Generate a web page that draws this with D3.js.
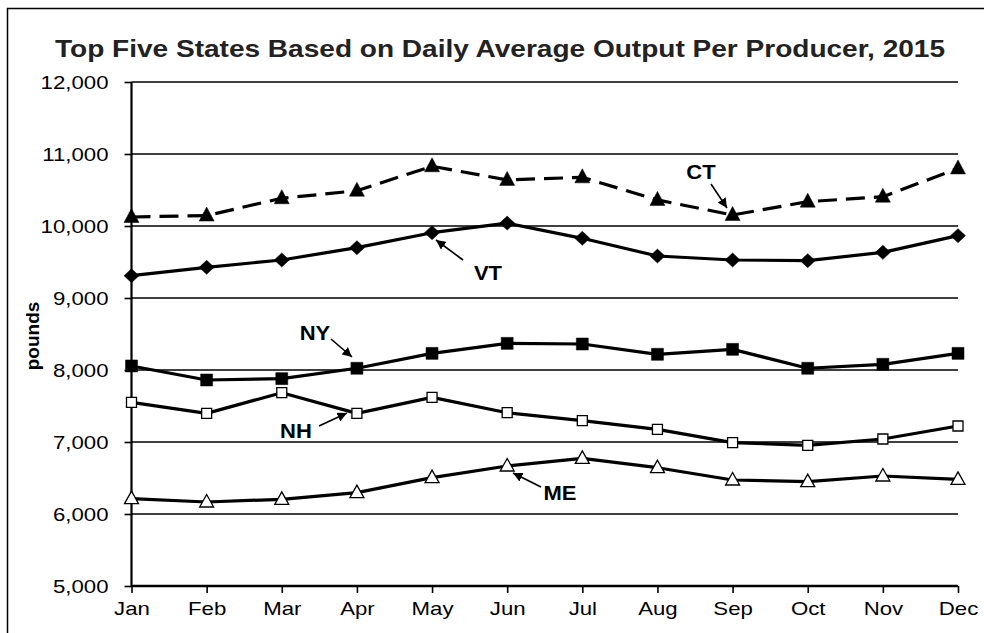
<!DOCTYPE html>
<html>
<head>
<meta charset="utf-8">
<script src="https://cdn.jsdelivr.net/npm/d3@7"></script>
<style>
  html, body { margin: 0; padding: 0; background: #fff; }
  svg { display: block; font-family: "Liberation Sans", Arial, sans-serif; }
</style>
</head>
<body>
<svg id="chart" width="984" height="633"></svg>
<script>
const months = ["Jan","Feb","Mar","Apr","May","Jun","Jul","Aug","Sep","Oct","Nov","Dec"];
const ct = [10125, 10145, 10385, 10490, 10830, 10640, 10676, 10362, 10153, 10338, 10407, 10800];
const vt = [9310, 9426, 9528, 9699, 9907, 10040, 9829, 9583, 9528, 9519, 9634, 9866];
const ny = [8056, 7861, 7880, 8024, 8231, 8370, 8361, 8218, 8287, 8024, 8079, 8231];
const nh = [7551, 7398, 7685, 7398, 7620, 7407, 7296, 7176, 6991, 6954, 7042, 7222];
const me = [6213, 6167, 6204, 6296, 6505, 6667, 6773, 6643, 6472, 6449, 6528, 6481];
const yTicks = [5000, 6000, 7000, 8000, 9000, 10000, 11000, 12000];
const title = "Top Five States Based on Daily Average Output Per Producer, 2015";
const yLabel = "pounds";

const svg = d3.select("#chart");

// frame
svg.append("rect").attr("x", 7.5).attr("y", 8.5).attr("width", 1100).attr("height", 800)
  .attr("fill", "none").attr("stroke", "#000").attr("stroke-width", 1.5);

const x = d3.scalePoint().domain(months).range([131.5, 958]);
const y = d3.scaleLinear().domain([5000, 12000]).range([586, 82]);

function stretch(sel, f) {
  sel.each(function() {
    const w = this.getComputedTextLength();
    d3.select(this).attr("textLength", w * f).attr("lengthAdjust", "spacingAndGlyphs");
  });
}

// gridlines
svg.append("g").selectAll("line").data(yTicks.filter(d => d > 5000)).join("line")
  .attr("x1", 131.5).attr("x2", 958).attr("y1", d => y(d)).attr("y2", d => y(d))
  .attr("stroke", "#000").attr("stroke-width", 1.4);

// y axis
const gy = svg.append("g").attr("transform", "translate(131.5,0)")
  .call(d3.axisLeft(y).tickValues(yTicks).tickFormat(d3.format(",")).tickSize(7).tickPadding(16));
gy.select(".domain").attr("stroke-width", 2.2).attr("d", `M0,${y(12000)}V${y(5000)}`);
gy.selectAll(".tick line").attr("stroke-width", 1.6);
gy.selectAll(".tick text").attr("font-size", 18.5).attr("fill", "#000")
  .attr("font-family", "'Liberation Sans', Arial, sans-serif").attr("dy", "0.36em");
stretch(gy.selectAll(".tick text"), 1.2);

// x axis
const gx = svg.append("g").attr("transform", `translate(0,${y(5000)})`)
  .call(d3.axisBottom(x).tickSize(7).tickPadding(9));
gx.select(".domain").attr("stroke-width", 2.4).attr("d", `M131.5,0H958`);
gx.selectAll(".tick line").attr("stroke-width", 1.6);
gx.selectAll(".tick text").attr("font-size", 18.5).attr("fill", "#000")
  .attr("font-family", "'Liberation Sans', Arial, sans-serif");
stretch(gx.selectAll(".tick text"), 1.2);

// title
const t = svg.append("text").attr("x", 500).attr("y", 57).attr("text-anchor", "middle")
  .attr("font-size", 24.5).attr("font-weight", "bold").attr("fill", "#222").text(title);
t.attr("textLength", 890).attr("lengthAdjust", "spacingAndGlyphs");

// y label
svg.append("text").attr("transform", "translate(39,336) rotate(-90)").attr("text-anchor", "middle")
  .attr("font-size", 19).attr("font-weight", "bold").text(yLabel);

// lines
const line = d3.line().x((d, i) => x(months[i])).y(d => y(d));
const series = [
  {v: me, dash: null, marker: "tri", fill: "#fff"},
  {v: nh, dash: null, marker: "sq", fill: "#fff"},
  {v: ny, dash: null, marker: "sq", fill: "#000"},
  {v: vt, dash: null, marker: "dia", fill: "#000"},
  {v: ct, dash: "19,9", marker: "tri", fill: "#000"}
];
const markerPath = {
  tri: d => d.fill === "#000" ? "M0,-8.5L7.5,5.5L-7.5,5.5Z" : "M0,-7.5L7,5L-7,5Z",
  sq: d => d.fill === "#000" ? "M-6,-6H6V6H-6Z" : "M-5,-5H5V5H-5Z",
  dia: d => "M0,-7L7.5,0L0,7L-7.5,0Z"
};
series.forEach(s => {
  svg.append("path").datum(s.v).attr("d", line).attr("fill", "none")
    .attr("stroke", "#000").attr("stroke-width", 3.2)
    .attr("stroke-dasharray", s.dash).attr("stroke-linejoin", "round");
  svg.append("g").selectAll("path").data(s.v).join("path")
    .attr("transform", (d, i) => `translate(${x(months[i])},${y(d)})`)
    .attr("d", markerPath[s.marker](s))
    .attr("fill", s.fill).attr("stroke", "#000").attr("stroke-width", s.fill === "#fff" ? 1.3 : 0.5);
});

// annotations
svg.append("defs").append("marker").attr("id", "ah").attr("viewBox", "0 0 10 10")
  .attr("refX", 10).attr("refY", 5).attr("markerWidth", 6).attr("markerHeight", 6)
  .attr("markerUnits", "strokeWidth").attr("orient", "auto")
  .append("path").attr("d", "M0,0L10,5L0,10Z").attr("fill", "#000");

const notes = [
  {label: "CT", tx: 701, ty: 179, ax1: 711, ay1: 184, ax2: 727, ay2: 208},
  {label: "VT", tx: 488, ty: 280, ax1: 463, ay1: 260, ax2: 436, ay2: 240},
  {label: "NY", tx: 315, ty: 340, ax1: 331, ay1: 339, ax2: 352, ay2: 357},
  {label: "NH", tx: 296, ty: 438, ax1: 319, ay1: 426, ax2: 347, ay2: 413},
  {label: "ME", tx: 560, ty: 500, ax1: 541, ay1: 487, ax2: 513, ay2: 473}
];
notes.forEach(n => {
  svg.append("line").attr("x1", n.ax1).attr("y1", n.ay1).attr("x2", n.ax2).attr("y2", n.ay2)
    .attr("stroke", "#000").attr("stroke-width", 1.6).attr("marker-end", "url(#ah)");
  const tt = svg.append("text").attr("x", n.tx).attr("y", n.ty).attr("text-anchor", "middle")
    .attr("font-size", 20).attr("font-weight", "bold").attr("fill", "#000").text(n.label);
  stretch(tt, 1.1);
});
</script>
</body>
</html>
